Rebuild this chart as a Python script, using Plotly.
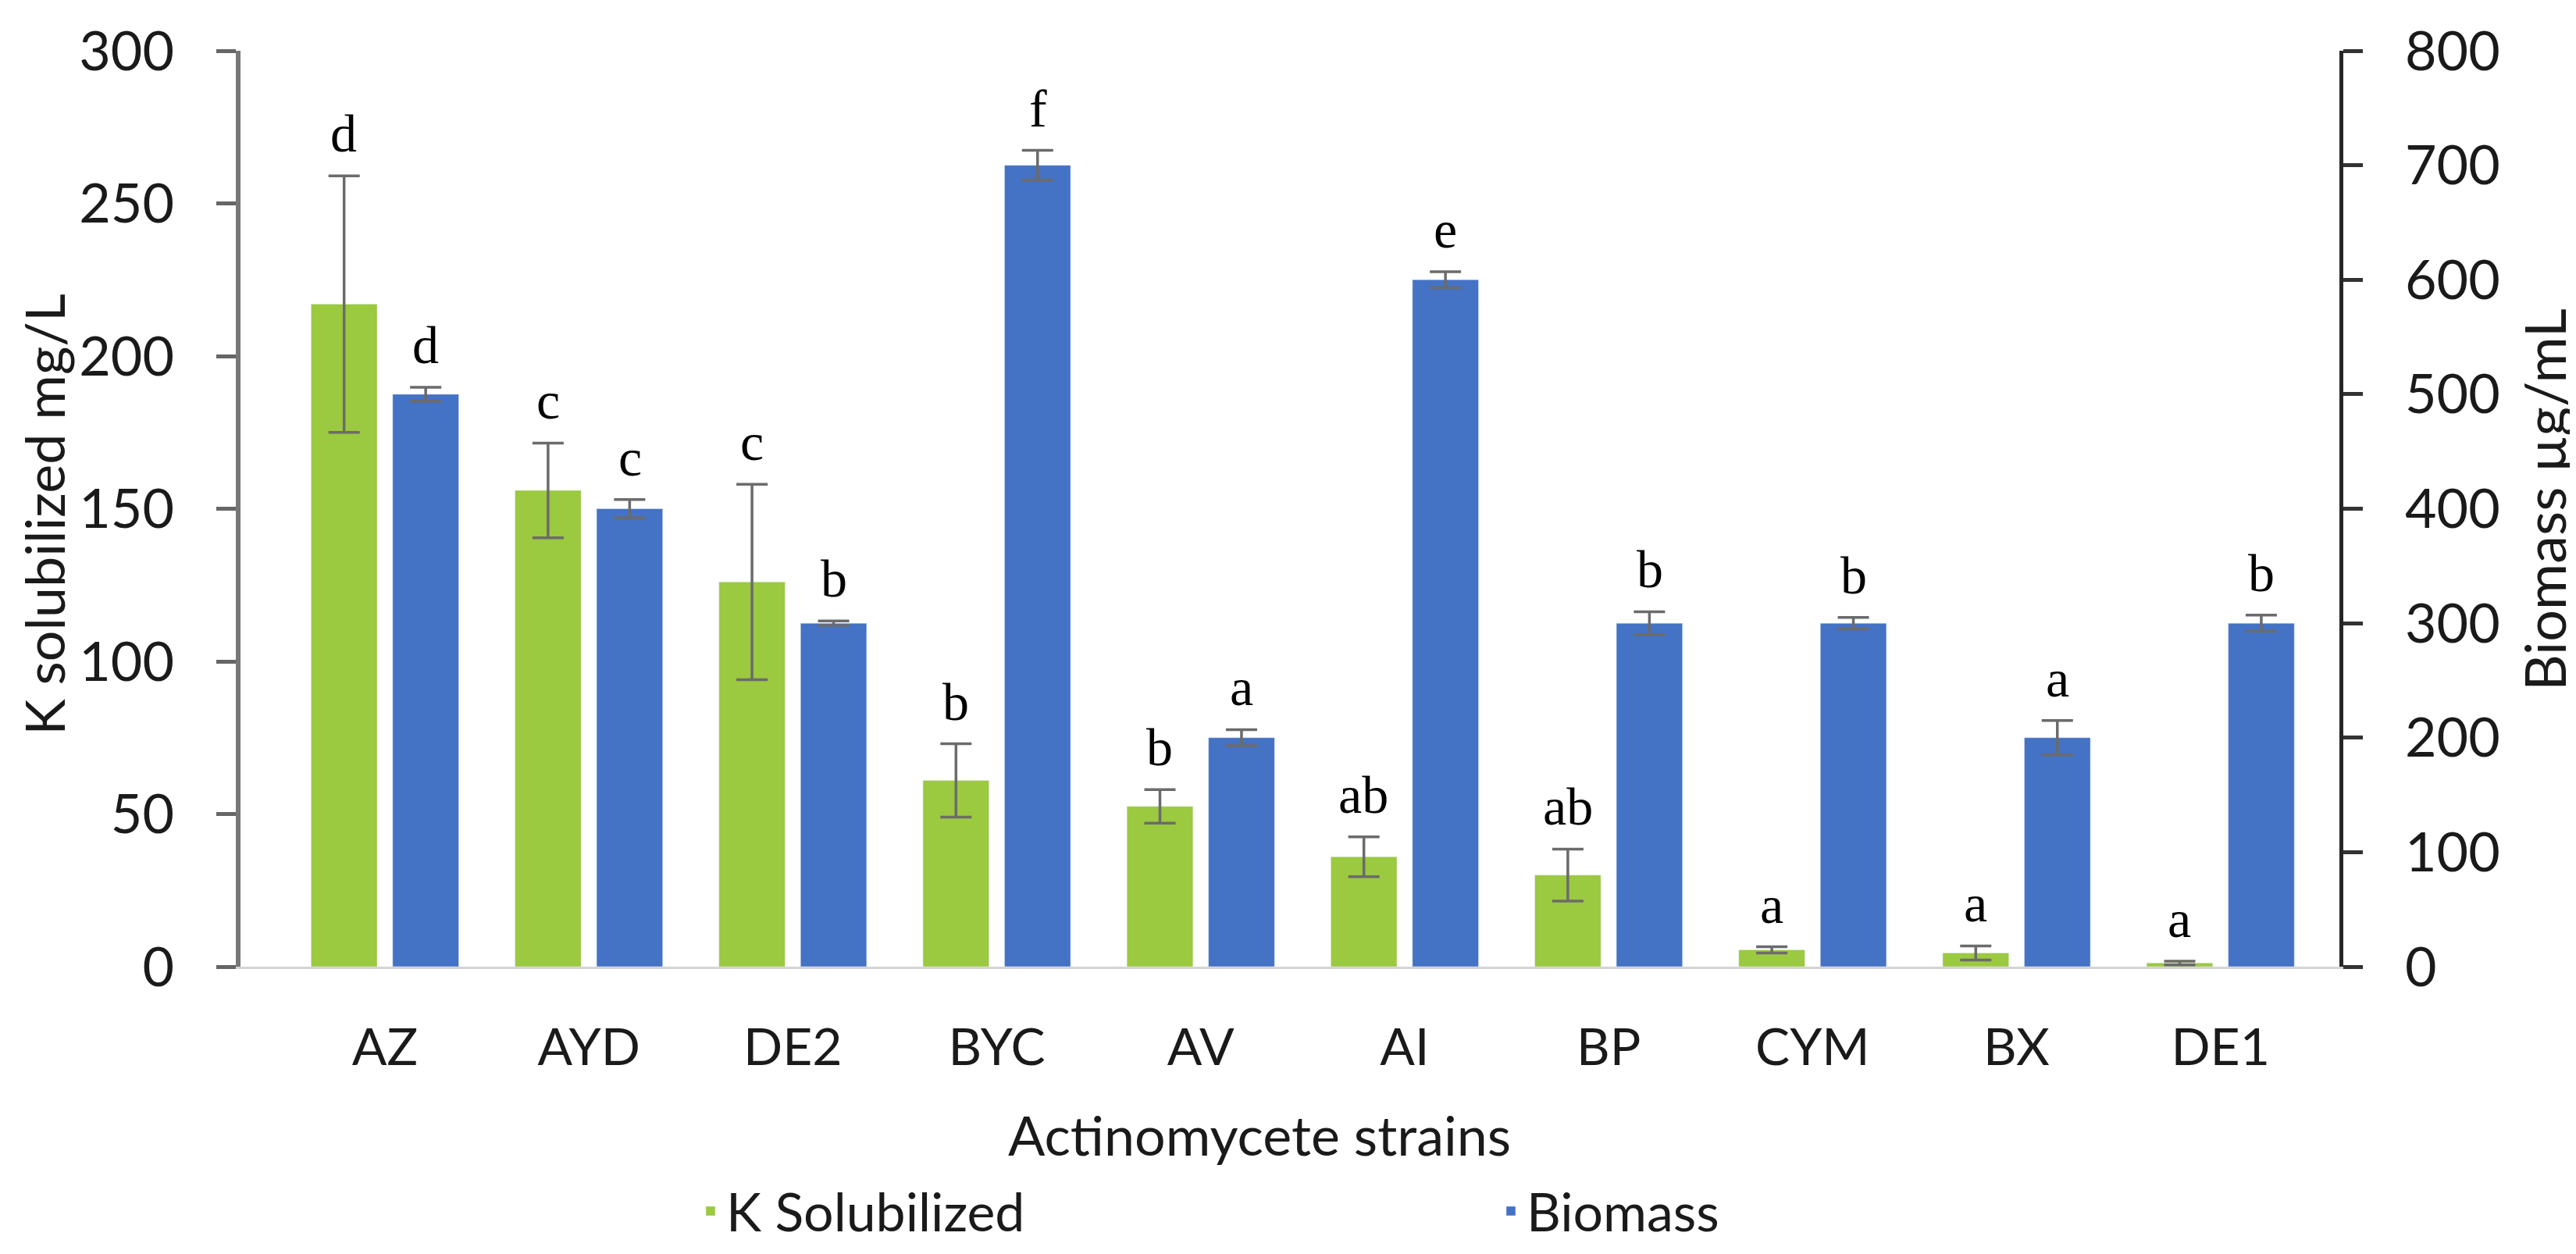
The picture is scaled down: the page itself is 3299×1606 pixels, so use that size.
import plotly.graph_objects as go

strains = ['AZ', 'AYD', 'DE2', 'BYC', 'AV', 'AI', 'BP', 'CYM', 'BX', 'DE1']

# K solubilized (mg/L), left axis
k_sol = [217, 156, 126, 61, 52.5, 36, 30, 5.5, 4.5, 1.2]
k_err = [42, 15.5, 32, 12, 5.5, 6.5, 8.5, 1, 2.3, 0.6]
k_letters = ['d', 'c', 'c', 'b', 'b', 'ab', 'ab', 'a', 'a', 'a']

# Biomass (ug/mL), right axis
biomass = [500, 400, 300, 700, 200, 600, 300, 300, 200, 300]
bio_err = [6, 8, 2, 13, 7, 7, 10, 5, 15, 7]
bio_letters = ['d', 'c', 'b', 'f', 'a', 'e', 'b', 'b', 'a', 'b']

GREEN = '#9BC93F'
BLUE = '#4472C4'
ERR = '#6b6b6b'
TXT = '#1a1a1a'
FONT = 'Lato'


def main():
    fig = go.Figure()
    fig.add_trace(go.Bar(
        x=strains, y=k_sol, name='K Solubilized',
        marker=dict(color=GREEN),
        error_y=dict(type='data', array=k_err, color=ERR, thickness=3.5, width=20),
        offsetgroup='k', yaxis='y'
    ))
    fig.add_trace(go.Bar(
        x=strains, y=biomass, name='Biomass',
        marker=dict(color=BLUE),
        error_y=dict(type='data', array=bio_err, color=ERR, thickness=3.5, width=20),
        offsetgroup='b', yaxis='y2'
    ))

    # significance letters above the error bars
    annots = []
    letter_font = dict(family='Liberation Serif', size=68, color='#000')
    for i, s in enumerate(strains):
        annots.append(dict(x=i - 0.201, y=k_sol[i] + k_err[i], xref='x', yref='y',
                           text=k_letters[i], showarrow=False, xanchor='center',
                           yanchor='bottom', yshift=14, font=letter_font))
        annots.append(dict(x=i + 0.201, y=biomass[i] + bio_err[i], xref='x', yref='y2',
                           text=bio_letters[i], showarrow=False, xanchor='center',
                           yanchor='bottom', yshift=14, font=letter_font))

    # axis titles
    annots.append(dict(x=0.4855, y=-0.183, xref='paper', yref='paper', text='Actinomycete strains',
                       xanchor='center', yanchor='middle', showarrow=False,
                       font=dict(family=FONT, size=70, color=TXT)))
    annots.append(dict(x=-0.094, y=0.494, xref='paper', yref='paper', text='K solubilized mg/L',
                       xanchor='center', yanchor='middle', textangle=-90, showarrow=False,
                       font=dict(family=FONT, size=70, color=TXT)))
    annots.append(dict(x=1.0975, y=0.51, xref='paper', yref='paper', text='Biomass µg/mL',
                       xanchor='center', yanchor='middle', textangle=-90, showarrow=False,
                       font=dict(family=FONT, size=72, color=TXT)))

    fig.update_layout(
        width=3299, height=1606,
        margin=dict(l=300, r=311, t=54, b=361),
        paper_bgcolor='white', plot_bgcolor='white',
        barmode='group', bargap=0.2, bargroupgap=0.19,
        font=dict(family=FONT, color=TXT),
        xaxis=dict(
            type='category', range=[-0.708, 9.583],
            showline=True, linecolor='#d4d4d4', linewidth=3,
            ticks='', tickfont=dict(size=66, color=TXT), ticklabelstandoff=44,
            showgrid=False, zeroline=False
        ),
        yaxis=dict(
            range=[0, 300], dtick=50,
            showline=True, linecolor='#777777', linewidth=6,
            ticks='outside', ticklen=25, tickwidth=5, tickcolor='#666666',
            tickfont=dict(size=70, color=TXT), ticklabelstandoff=40,
            showgrid=False, zeroline=False
        ),
        yaxis2=dict(
            range=[0, 800], dtick=100, overlaying='y', side='right',
            showline=True, linecolor='#262626', linewidth=5,
            ticks='outside', ticklen=25, tickwidth=5, tickcolor='#333333',
            tickfont=dict(size=70, color=TXT), ticklabelstandoff=40,
            showgrid=False, zeroline=False
        ),
        legend=dict(
            orientation='h', x=0.2165, y=-0.267, xanchor='left', yanchor='middle',
            font=dict(size=68, color=TXT), entrywidth=980, entrywidthmode='pixels',
            bgcolor='rgba(0,0,0,0)'
        ),
        annotations=annots,
        showlegend=True
    )

    fig.write_html('out.html')


if __name__ == '__main__':
    main()
